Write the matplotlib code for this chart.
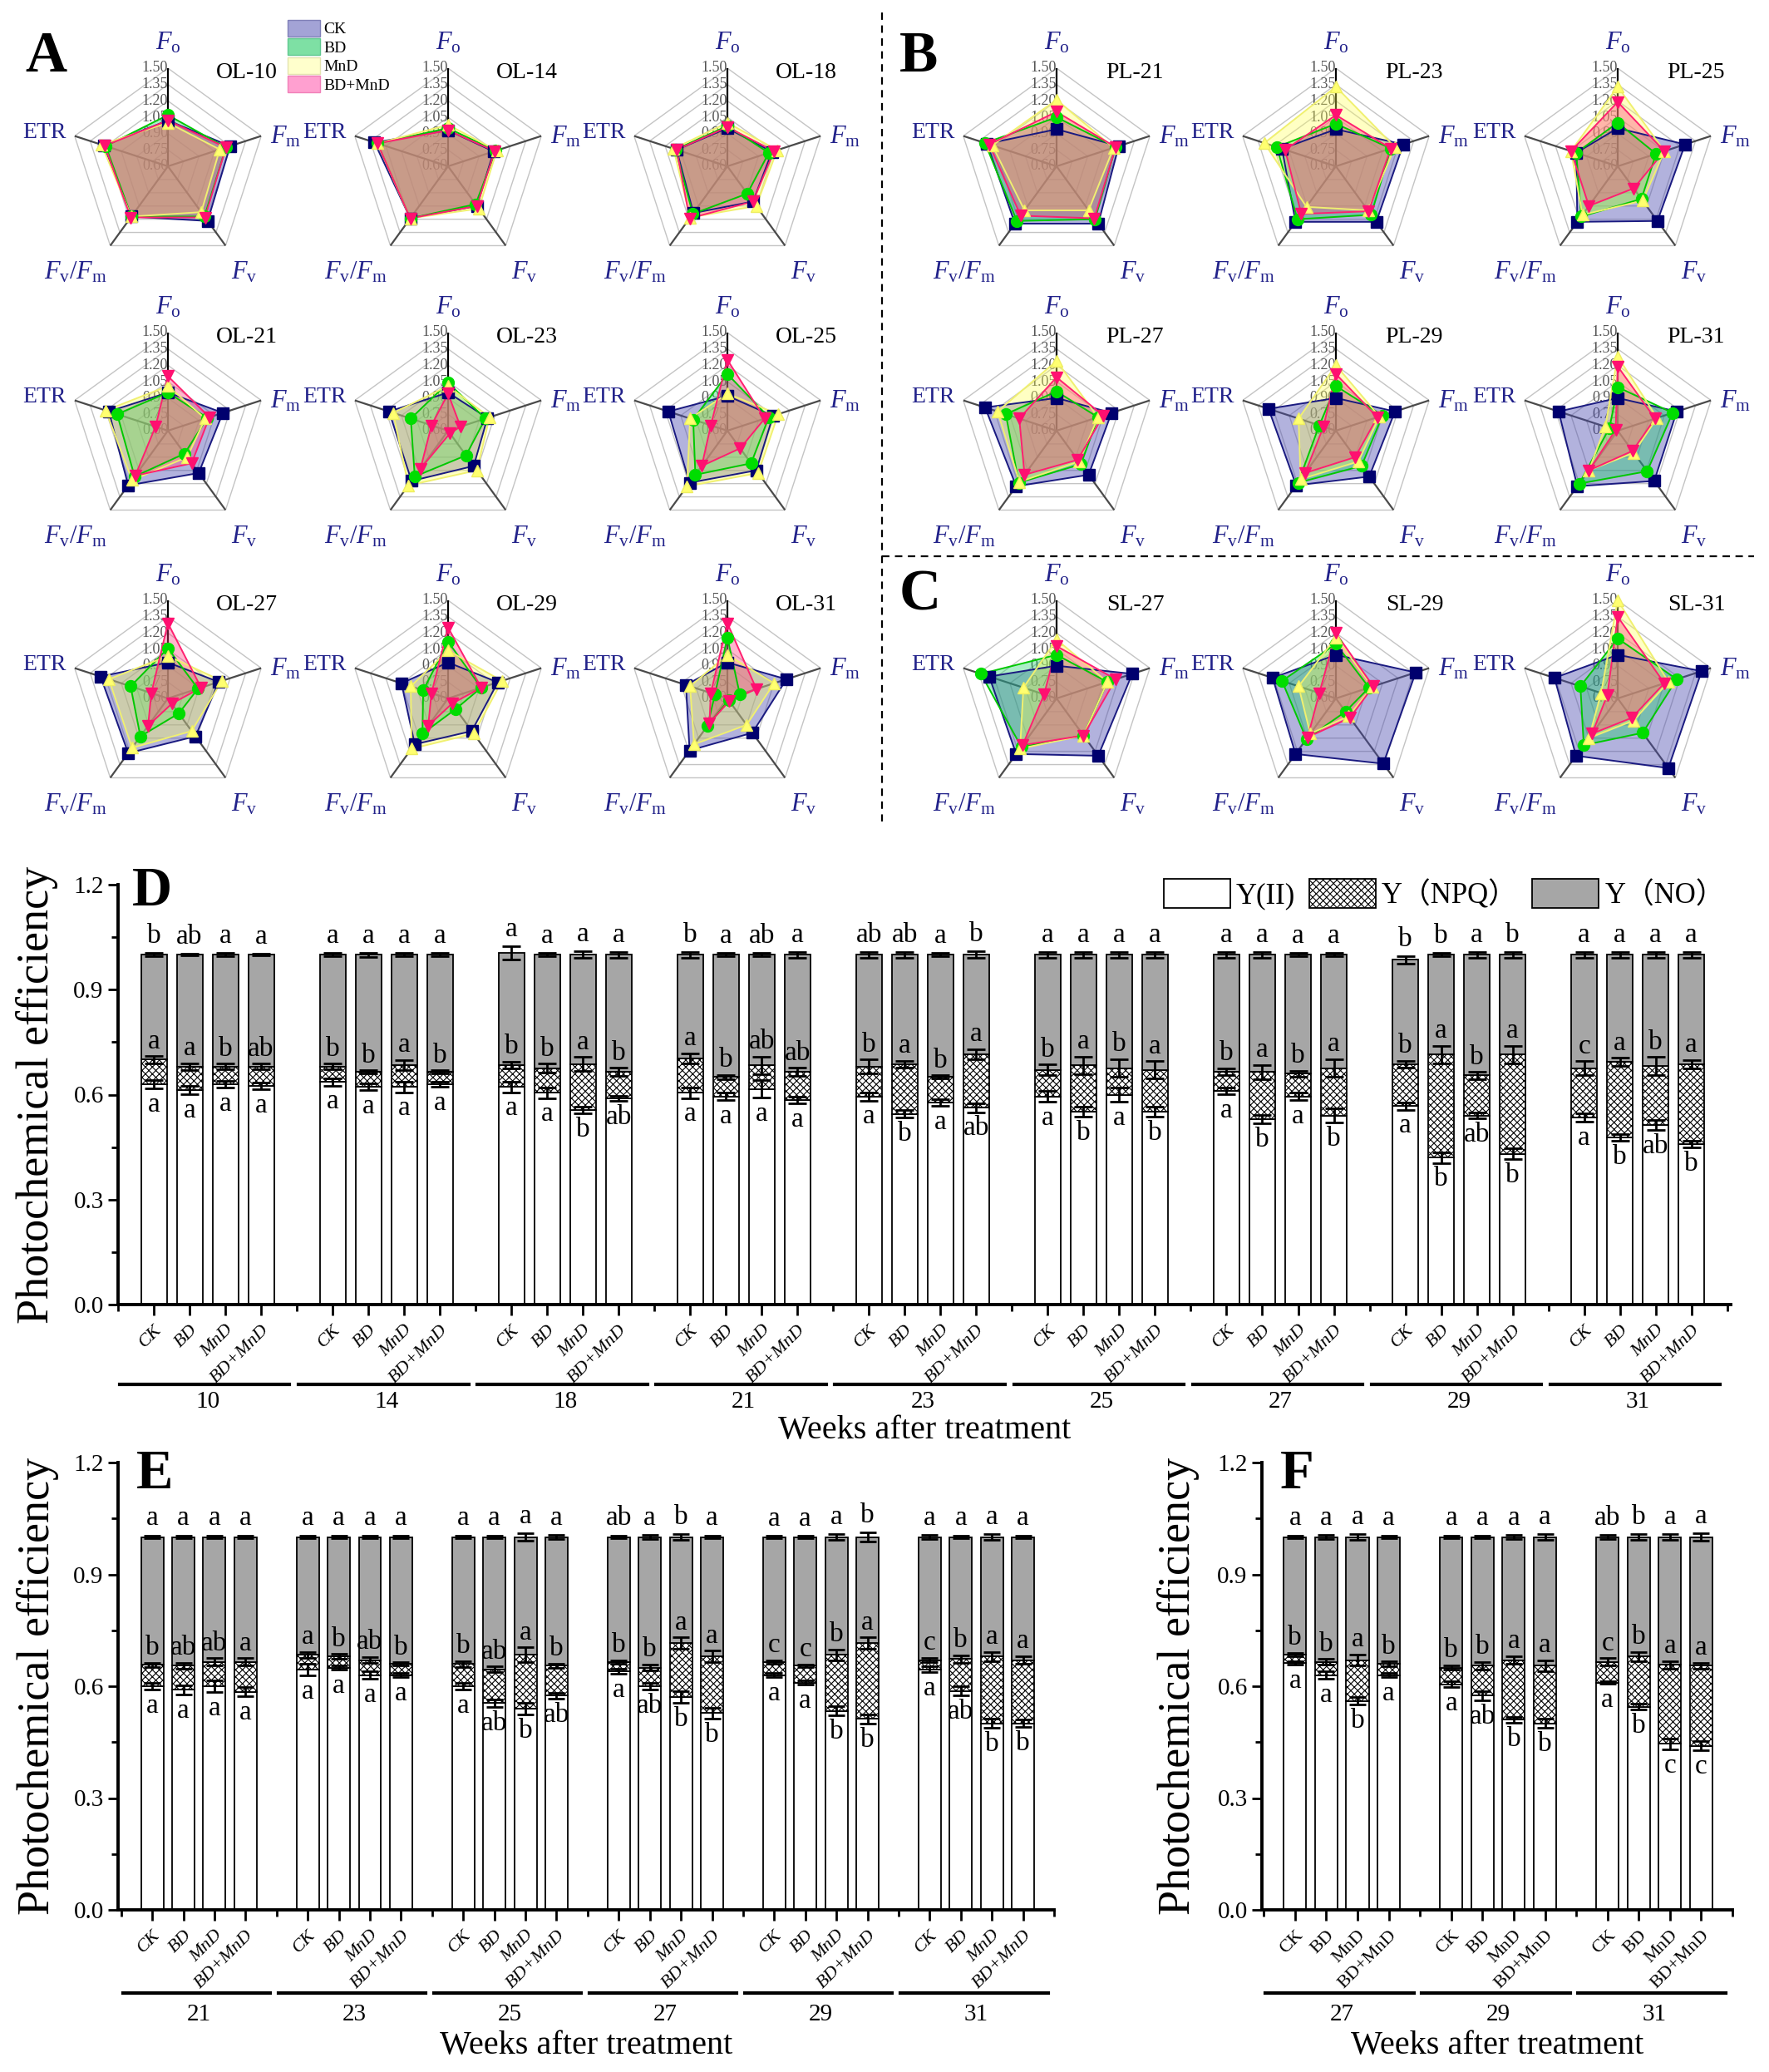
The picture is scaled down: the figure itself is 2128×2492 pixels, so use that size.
import matplotlib
matplotlib.use("Agg")
import matplotlib.pyplot as plt
import matplotlib.transforms as mtransforms
import numpy as np
from matplotlib.patches import Patch
from matplotlib.lines import Line2D

plt.rcParams["font.family"] = ["Liberation Serif", "Noto Sans CJK SC"]
plt.rcParams["mathtext.fontset"] = "custom"
plt.rcParams["mathtext.rm"] = "Liberation Serif"
plt.rcParams["mathtext.it"] = "Liberation Serif:italic"
plt.rcParams["hatch.linewidth"] = 0.8

# ---------------- radar data (order: Fo, Fm, Fv, Fv/Fm, ETR) ----------------
radar_names = ["OL-10", "OL-14", "OL-18", "OL-21", "OL-23", "OL-25", "OL-27", "OL-29", "OL-31",
               "PL-21", "PL-23", "PL-25", "PL-27", "PL-29", "PL-31",
               "SL-27", "SL-29", "SL-31"]
axis_labels = [r"$F_\mathrm{o}$", r"$F_\mathrm{m}$", r"$F_\mathrm{v}$",
               r"$F_\mathrm{v}/F_\mathrm{m}$", "ETR"]
ring_levels = [0.60, 0.75, 0.90, 1.05, 1.20, 1.35, 1.50]

ck_vals = [[1.02, 1.20, 1.22, 1.17, 1.22], [0.93, 1.04, 1.05, 1.19, 1.31], [0.95, 1.03, 1.00, 1.13, 1.09],
           [0.95, 1.13, 1.08, 1.22, 1.17], [0.95, 0.98, 1.00, 1.17, 1.17], [0.92, 1.04, 1.05, 1.19, 1.17],
           [0.93, 1.09, 1.03, 1.22, 1.25], [0.93, 1.08, 0.97, 1.12, 1.05], [0.93, 1.17, 0.99, 1.19, 1.00],
           [0.94, 1.20, 1.25, 1.25, 1.27], [0.94, 1.25, 1.23, 1.23, 1.12], [0.95, 1.25, 1.22, 1.23, 1.00],
           [0.90, 1.13, 1.10, 1.23, 1.29], [0.90, 1.17, 1.12, 1.22, 1.25], [0.90, 1.17, 1.17, 1.23, 1.17],
           [0.90, 1.33, 1.25, 1.23, 1.25], [1.00, 1.37, 1.34, 1.23, 1.21], [1.00, 1.41, 1.39, 1.25, 1.21]]
bd_vals = [[1.07, 1.16, 1.17, 1.17, 1.20], [0.95, 1.06, 1.03, 1.19, 1.28], [0.97, 1.00, 0.91, 1.14, 1.10],
           [0.95, 0.98, 0.86, 1.12, 1.09], [1.04, 0.96, 0.88, 1.12, 0.96], [1.12, 1.00, 0.97, 1.10, 0.93],
           [1.06, 0.89, 0.77, 1.03, 0.96], [1.12, 0.92, 0.72, 1.00, 0.84], [1.16, 0.72, 0.62, 0.91, 0.72],
           [1.05, 1.17, 1.20, 1.22, 1.29], [0.99, 1.13, 1.15, 1.20, 1.17], [1.00, 0.97, 0.97, 1.17, 1.00],
           [0.96, 1.00, 0.98, 1.19, 1.09], [1.01, 1.05, 1.00, 1.19, 0.76], [1.00, 1.13, 1.06, 1.20, 0.68],
           [1.00, 1.09, 1.02, 1.15, 1.33], [1.10, 0.92, 0.75, 1.06, 1.12], [1.15, 1.17, 0.99, 1.13, 0.96]]
mnd_vals = [[1.00, 1.10, 1.12, 1.17, 1.24], [0.98, 1.07, 1.08, 1.19, 1.28], [1.00, 1.08, 1.05, 1.18, 1.12],
            [1.01, 0.96, 0.90, 1.16, 1.20], [1.01, 1.00, 1.05, 1.22, 1.13], [0.94, 1.09, 1.08, 1.23, 0.96],
            [0.99, 1.12, 0.97, 1.16, 1.17], [1.04, 1.12, 1.00, 1.17, 0.96], [1.00, 1.05, 0.90, 1.12, 0.96],
            [1.21, 1.15, 1.10, 1.10, 1.22], [1.33, 1.17, 1.10, 1.06, 1.29], [1.33, 1.05, 0.99, 1.15, 1.05],
            [1.24, 1.00, 0.95, 1.18, 1.17], [1.20, 1.02, 0.95, 1.15, 0.96], [1.28, 0.98, 0.85, 1.05, 0.72],
            [1.14, 1.09, 1.02, 1.17, 0.92], [1.16, 0.95, 0.80, 1.00, 0.96], [1.50, 1.09, 0.85, 1.05, 0.76]]
bdmnd_vals = [[1.02, 1.16, 1.18, 1.18, 1.21], [0.93, 1.05, 1.05, 1.19, 1.28], [0.96, 1.05, 1.00, 1.19, 1.09],
              [1.10, 1.00, 0.97, 1.11, 0.72], [0.94, 0.72, 0.63, 1.03, 0.76], [1.25, 0.96, 0.80, 1.00, 0.76],
              [1.29, 0.92, 0.66, 0.91, 0.76], [1.25, 0.92, 0.66, 0.91, 0.76], [1.29, 0.88, 0.63, 0.88, 0.76],
              [1.10, 1.17, 1.19, 1.16, 1.25], [1.07, 1.13, 1.11, 1.14, 1.09], [1.19, 1.05, 0.85, 1.05, 1.05],
              [1.09, 1.05, 0.93, 1.10, 0.96], [1.12, 1.00, 0.90, 1.08, 0.72], [1.19, 0.96, 0.83, 1.05, 0.62],
              [1.08, 1.17, 1.02, 1.13, 0.72], [1.20, 0.96, 0.82, 1.04, 0.76], [1.35, 1.05, 0.82, 1.00, 0.70]]

treatments = ["CK", "BD", "MnD", "BD+MnD"]

# ---------------- bar data ----------------
d_weeks = [10, 14, 18, 21, 23, 25, 27, 29, 31]
d_yii = [[0.630, 0.613, 0.630, 0.625], [0.636, 0.622, 0.622, 0.630], [0.622, 0.605, 0.556, 0.589],
         [0.605, 0.595, 0.616, 0.584], [0.595, 0.545, 0.578, 0.562], [0.595, 0.551, 0.600, 0.551],
         [0.611, 0.529, 0.595, 0.540], [0.567, 0.420, 0.540, 0.431], [0.535, 0.477, 0.513, 0.458]]
d_npq = [[0.070, 0.067, 0.050, 0.055], [0.044, 0.043, 0.062, 0.035], [0.062, 0.071, 0.131, 0.076],
         [0.098, 0.056, 0.068, 0.081], [0.085, 0.142, 0.073, 0.153], [0.076, 0.133, 0.076, 0.120],
         [0.054, 0.136, 0.065, 0.136], [0.120, 0.295, 0.115, 0.284], [0.141, 0.216, 0.169, 0.229]]
d_no = [[0.300, 0.320, 0.320, 0.320], [0.320, 0.335, 0.316, 0.335], [0.321, 0.324, 0.313, 0.335],
        [0.297, 0.349, 0.316, 0.335], [0.320, 0.313, 0.349, 0.285], [0.329, 0.316, 0.324, 0.329],
        [0.335, 0.335, 0.340, 0.324], [0.298, 0.285, 0.345, 0.285], [0.324, 0.307, 0.318, 0.313]]
d_err_ii = [[0.012, 0.012, 0.010, 0.010], [0.010, 0.010, 0.015, 0.008], [0.015, 0.015, 0.010, 0.008],
            [0.015, 0.010, 0.025, 0.010], [0.012, 0.010, 0.010, 0.012], [0.015, 0.015, 0.020, 0.015],
            [0.010, 0.012, 0.010, 0.020], [0.010, 0.015, 0.008, 0.015], [0.012, 0.010, 0.015, 0.010]]
d_err_npq = [[0.010, 0.010, 0.008, 0.008], [0.008, 0.004, 0.015, 0.004], [0.010, 0.012, 0.020, 0.012],
             [0.015, 0.006, 0.025, 0.012], [0.020, 0.010, 0.004, 0.015], [0.015, 0.025, 0.025, 0.025],
             [0.010, 0.020, 0.008, 0.025], [0.010, 0.025, 0.010, 0.025], [0.020, 0.012, 0.025, 0.012]]
d_err_no = [[0.004, 0.003, 0.004, 0.003], [0.004, 0.006, 0.005, 0.004], [0.020, 0.004, 0.010, 0.008],
            [0.008, 0.004, 0.004, 0.008], [0.008, 0.008, 0.004, 0.010], [0.008, 0.008, 0.008, 0.008],
            [0.008, 0.008, 0.004, 0.004], [0.010, 0.005, 0.008, 0.008], [0.008, 0.008, 0.008, 0.008]]
d_let_top = ["b ab a a", "a a a a", "a a a a", "b a ab a", "ab ab a b", "a a a a", "a a a a", "b b a b", "a a a a"]
d_let_mid = ["a a b ab", "b b a b", "b b a b", "a b ab ab", "b a b a", "b a b a", "b a b a", "b a b a", "c a b a"]
d_let_bot = ["a a a a", "a a a a", "a a b ab", "a a a a", "a b a ab", "a b a b", "a b a b", "a b ab b", "a b ab b"]

e_weeks = [21, 23, 25, 27, 29, 31]
e_yii = [[0.600, 0.590, 0.600, 0.585], [0.645, 0.650, 0.630, 0.630], [0.600, 0.555, 0.540, 0.575],
         [0.640, 0.600, 0.571, 0.528], [0.630, 0.610, 0.534, 0.512], [0.645, 0.587, 0.500, 0.500]]
e_npq = [[0.057, 0.065, 0.065, 0.080], [0.039, 0.030, 0.040, 0.030], [0.060, 0.090, 0.144, 0.080],
         [0.025, 0.050, 0.145, 0.152], [0.035, 0.045, 0.150, 0.204], [0.025, 0.086, 0.180, 0.170]]
e_no = [[0.343, 0.345, 0.335, 0.335], [0.316, 0.320, 0.330, 0.340], [0.340, 0.355, 0.316, 0.345],
        [0.335, 0.350, 0.284, 0.320], [0.335, 0.345, 0.316, 0.284], [0.330, 0.327, 0.320, 0.330]]
e_err_ii = [[0.008, 0.012, 0.015, 0.012], [0.015, 0.006, 0.010, 0.006], [0.010, 0.010, 0.015, 0.008],
            [0.006, 0.010, 0.015, 0.015], [0.005, 0.006, 0.012, 0.012], [0.008, 0.012, 0.012, 0.010]]
e_err_npq = [[0.006, 0.008, 0.010, 0.010], [0.008, 0.006, 0.008, 0.004], [0.008, 0.008, 0.020, 0.006],
             [0.005, 0.008, 0.015, 0.015], [0.004, 0.004, 0.015, 0.015], [0.006, 0.010, 0.012, 0.010]]
e_err_no = [[0.004, 0.004, 0.004, 0.004], [0.004, 0.004, 0.004, 0.004], [0.004, 0.004, 0.010, 0.006],
            [0.004, 0.006, 0.008, 0.004], [0.003, 0.003, 0.008, 0.012], [0.006, 0.004, 0.008, 0.004]]
e_let_top = ["a a a a", "a a a a", "a a a a", "ab a b a", "a a a b", "a a a a"]
e_let_mid = ["b ab ab a", "a b ab b", "b ab a b", "b b a a", "c c b a", "c b a a"]
e_let_bot = ["a a a a", "a a a a", "a ab b ab", "a ab b b", "a a b b", "a ab b b"]

f_weeks = [27, 29, 31]
f_yii = [[0.663, 0.630, 0.560, 0.630], [0.605, 0.575, 0.510, 0.500], [0.610, 0.545, 0.445, 0.440]]
f_npq = [[0.022, 0.035, 0.110, 0.030], [0.045, 0.080, 0.160, 0.155], [0.055, 0.135, 0.212, 0.215]]
f_no = [[0.315, 0.335, 0.330, 0.340], [0.350, 0.345, 0.330, 0.345], [0.335, 0.320, 0.343, 0.345]]
f_err_ii = [[0.005, 0.010, 0.010, 0.006], [0.008, 0.012, 0.008, 0.012], [0.004, 0.008, 0.015, 0.012]]
f_err_npq = [[0.004, 0.008, 0.015, 0.006], [0.006, 0.010, 0.010, 0.015], [0.010, 0.012, 0.010, 0.008]]
f_err_no = [[0.004, 0.006, 0.008, 0.004], [0.004, 0.004, 0.006, 0.008], [0.006, 0.008, 0.008, 0.010]]
f_let_top = ["a a a a", "a a a a", "ab b a a"]
f_let_mid = ["b b a b", "b b a a", "c b a a"]
f_let_bot = ["a a b a", "a ab b b", "a b c c"]

# ---------------- figure ----------------
W, H = 2128, 2492
fig = plt.figure(figsize=(W / 100, H / 100), dpi=100)
navy = "#22228a"

styles = [
    dict(fill="#4848b0", alpha=0.42, line="#1a1a80", marker="s", mfc="#00006e", mec="#00006e"),
    dict(fill="#10d060", alpha=0.35, line="#00c800", marker="o", mfc="#00dd00", mec="#00dd00"),
    dict(fill="#ffff55", alpha=0.35, line="#f0f070", marker="^", mfc="#ffff70", mec="#eeee60"),
    dict(fill="#ff4080", alpha=0.38, line="#ff2070", marker="v", mfc="#ff1070", mec="#ff1070"),
]

angles = np.linspace(0, 2 * np.pi, 5, endpoint=False)
closed = np.append(angles, angles[0])

cols_x = [202, 539, 875, 1271, 1607, 1946]
rows_y = [200, 518, 840]
R = 118


def radar_pos(i):
    if i < 9:
        return cols_x[i % 3], rows_y[i // 3]
    if i < 15:
        j = i - 9
        return cols_x[3 + j % 3], rows_y[j // 3]
    return cols_x[3 + i - 15], rows_y[2]


def draw_radar(ax, name, series):
    ax.set_theta_offset(np.pi / 2)
    ax.set_theta_direction(-1)
    ax.set_ylim(0.6, 1.5)
    ax.set_xticks([])
    ax.set_yticks([])
    ax.grid(False)
    ax.spines["polar"].set_visible(False)
    ax.patch.set_alpha(0)
    for lvl in ring_levels[1:]:
        ax.plot(closed, [lvl] * 6, color="#c4c4c4", lw=1.0, zorder=1)
    for k, a in enumerate(angles):
        ax.plot([a, a], [0.6, 1.5], color="k" if k == 0 else "#4a4a4a", lw=1.6, zorder=1)
    for lvl in ring_levels:
        ax.text(0, lvl, f"{lvl:.2f}", ha="right", va="center", fontsize=13,
                color="#555555", zorder=1.5)
    for vals, st in zip(series, styles):
        v = np.append(vals, vals[0])
        ax.fill(closed, v, color=st["fill"], alpha=st["alpha"], lw=0, zorder=2)
        ax.plot(closed, v, color=st["line"], lw=1.4, zorder=3)
        ax.plot(angles, vals, ls="none", marker=st["marker"], ms=10,
                mfc=st["mfc"], mec=st["mec"], zorder=4, clip_on=False)
    tr = ax.transAxes
    ax.text(0.5, 1.13, axis_labels[0], transform=tr, ha="center", va="center", fontsize=22, color=navy)
    ax.text(1.02, 0.65, axis_labels[1], transform=tr, ha="left", va="center", fontsize=22, color=navy)
    ax.text(0.89, -0.04, axis_labels[2], transform=tr, ha="center", va="center", fontsize=22, color=navy)
    ax.text(0.03, -0.04, axis_labels[3], transform=tr, ha="center", va="center", fontsize=22, color=navy)
    ax.text(-0.02, 0.67, axis_labels[4], transform=tr, ha="right", va="center", fontsize=20, color=navy)
    ax.text(0.90, 0.975, name, transform=tr, ha="center", va="center", fontsize=20)


for i, name in enumerate(radar_names):
    cx, cy = radar_pos(i)
    ax = fig.add_axes([(cx - R) / W, 1 - (cy + R) / H, 2 * R / W, 2 * R / H], projection="polar")
    draw_radar(ax, name, [ck_vals[i], bd_vals[i], mnd_vals[i], bdmnd_vals[i]])

leg_handles = [Patch(facecolor="#a3a3d6", edgecolor="#8080b8"),
               Patch(facecolor="#7ee0a4", edgecolor="#60c890"),
               Patch(facecolor="#ffffcc", edgecolor="#e4e4b0"),
               Patch(facecolor="#ffa0d0", edgecolor="#f080b8")]
fig.legend(leg_handles, treatments, loc="upper left", bbox_to_anchor=(336 / W, 1 - 14 / H),
           frameon=False, fontsize=14, handlelength=2.0, handleheight=1.2,
           labelspacing=0.1, handletextpad=0.25, borderpad=0)

# separators
fig.add_artist(Line2D([1061 / W, 1061 / W], [1 - 15 / H, 1 - 988 / H], transform=fig.transFigure,
                      color="k", lw=1.6, ls=(0, (4, 3))))
fig.add_artist(Line2D([1061 / W, 2110 / W], [1 - 669 / H, 1 - 669 / H], transform=fig.transFigure,
                      color="k", lw=1.6, ls=(0, (4, 3))))

for letter, (px, py) in zip("ABC", [(30, 86), (1082, 86), (1082, 733)]):
    fig.text(px / W, 1 - py / H, letter, fontsize=50, fontweight="bold", ha="left", va="baseline")


# ---------------- stacked bars ----------------
def draw_bars(ax, weeks, yii, ynpq, yno, err_ii, err_npq, err_no, let_top, let_mid, let_bot,
              italic, capsize, xl, label_y, ylab_x):
    n = len(weeks)
    width = 0.72
    for g in range(n):
        xs = np.arange(4) + 5 * g
        a = np.array(yii[g])
        b = np.array(ynpq[g])
        c = np.array(yno[g])
        ax.bar(xs, a, width=width, color="white", edgecolor="k", lw=1.3, zorder=2)
        ax.bar(xs, b, bottom=a, width=width, color="white", edgecolor="k", lw=1.3,
               hatch="xxxx", zorder=2)
        ax.bar(xs, c, bottom=a + b, width=width, color="#a6a6a6", edgecolor="k", lw=1.3, zorder=2)
        for yv, ev in [(a, err_ii[g]), (a + b, err_npq[g]), (a + b + c, err_no[g])]:
            ax.errorbar(xs, yv, yerr=ev, fmt="none", ecolor="k", elinewidth=2.0,
                        capsize=capsize, capthick=2.0, zorder=3)
        tops = let_top[g].split()
        mids = let_mid[g].split()
        bots = let_bot[g].split()
        for i in range(4):
            ax.text(xs[i], a[i] + b[i] + c[i] + err_no[g][i] + 0.012, tops[i],
                    ha="center", va="bottom", fontsize=24, zorder=4)
            ax.text(xs[i], a[i] + b[i] + err_npq[g][i] + 0.006, mids[i],
                    ha="center", va="bottom", fontsize=24, zorder=4)
            ax.text(xs[i], a[i] - err_ii[g][i] - 0.010, bots[i],
                    ha="center", va="top", fontsize=24, zorder=4)

    ax.set_xlim(*xl)
    ax.set_ylim(0, 1.2)
    centers = np.concatenate([np.arange(4) + 5 * g for g in range(n)])
    ax.set_xticks(centers)
    ax.set_xticklabels(treatments * n, rotation=45, ha="right", va="top", rotation_mode="anchor",
                       fontsize=16, style="italic" if italic else "normal")
    ax.set_xticks(np.arange(-1, 5 * n, 5), minor=True)
    ax.set_yticks([0, 0.3, 0.6, 0.9, 1.2])
    ax.set_yticklabels(["0.0", "0.3", "0.6", "0.9", "1.2"], fontsize=21)
    ax.set_yticks(np.arange(0.15, 1.2, 0.3), minor=True)
    ax.tick_params(axis="both", which="major", direction="out", length=9, width=2)
    ax.tick_params(axis="both", which="minor", direction="out", length=6, width=2)
    ax.tick_params(axis="x", which="major", pad=6)
    for s in ["top", "right"]:
        ax.spines[s].set_visible(False)
    for s in ["left", "bottom"]:
        ax.spines[s].set_linewidth(2.8)

    trans = mtransforms.blended_transform_factory(ax.transData, ax.transAxes)
    for g, wk in enumerate(weeks):
        ax.plot([5 * g - 0.95, 5 * g + 3.8], [label_y[0]] * 2, color="k", lw=3,
                transform=trans, clip_on=False)
        ax.text(5 * g + 1.5, label_y[1], str(wk), transform=trans, ha="center", va="center",
                fontsize=21)
    ax.text(0.5, label_y[2], "Weeks after treatment", transform=ax.transAxes, ha="center",
            va="center", fontsize=29)
    ax.text(ylab_x, 0.5, "Photochemical efficiency", transform=ax.transAxes, ha="center",
            va="center", rotation=90, fontsize=39)


ax_d = fig.add_axes([142 / W, 1 - 1569 / H, 1940 / W, 505 / H])
draw_bars(ax_d, d_weeks, d_yii, d_npq, d_no, d_err_ii, d_err_npq, d_err_no,
          d_let_top, d_let_mid, d_let_bot, True, 8, (-0.98, 44.1), (-0.19, -0.232, -0.30), -0.05)

ax_e = fig.add_axes([142 / W, 1 - 2297 / H, 1126 / W, 538 / H])
draw_bars(ax_e, e_weeks, e_yii, e_npq, e_no, e_err_ii, e_err_npq, e_err_no,
          e_let_top, e_let_mid, e_let_bot, True, 7, (-1.1, 29.0), (-0.186, -0.234, -0.303), -0.086)

ax_f = fig.add_axes([1518 / W, 1 - 2297 / H, 566 / W, 538 / H])
draw_bars(ax_f, f_weeks, f_yii, f_npq, f_no, f_err_ii, f_err_npq, f_err_no,
          f_let_top, f_let_mid, f_let_bot, False, 7, (-1.06, 14.0), (-0.186, -0.234, -0.303), -0.177)

for letter, (px, py) in zip("DEF", [(159, 1089), (164, 1790), (1540, 1790)]):
    fig.text(px / W, 1 - py / H, letter, fontsize=48, fontweight="bold", ha="left", va="baseline")

bar_handles = [Patch(facecolor="white", edgecolor="k", lw=1.3),
               Patch(facecolor="white", edgecolor="k", lw=1.3, hatch="xxxx"),
               Patch(facecolor="#a6a6a6", edgecolor="k", lw=1.3)]
fig.legend(bar_handles, ["Y(II)", "Y（NPQ）", "Y（NO）"], loc="upper right",
           bbox_to_anchor=(2092 / W, 1 - 1040 / H), ncol=3, frameon=False, fontsize=25,
           handlelength=2.3, handleheight=1.15, handletextpad=0.2, columnspacing=0.5, borderpad=0)

fig.savefig("out.png", dpi=100, facecolor="white")
